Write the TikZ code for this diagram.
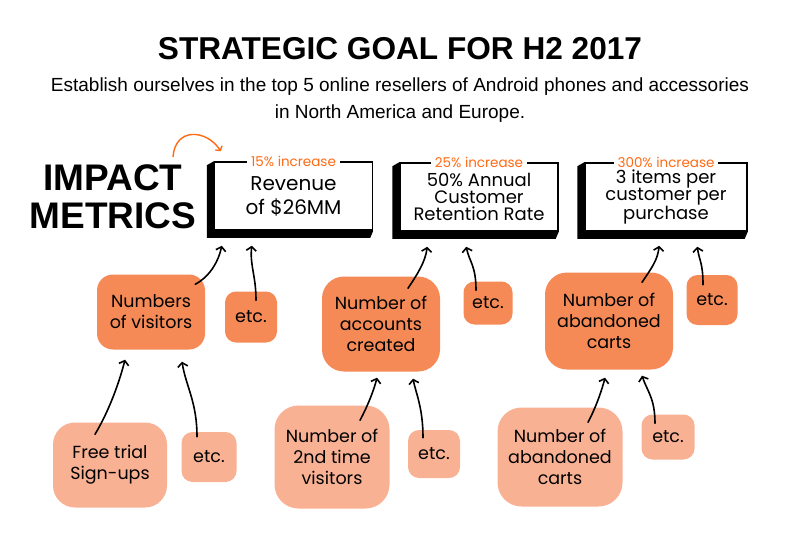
\documentclass[tikz,border=0pt]{standalone}
\usepackage{fontspec}
\setmainfont{Liberation Sans}
\newfontfamily\handfont{Poppins}
\usetikzlibrary{positioning,arrows.meta}
\definecolor{accent}{HTML}{FF6A13}
\definecolor{darkfill}{HTML}{F58A57}
\definecolor{lightfill}{HTML}{F9B194}

\tikzset{
  metric/.style={draw,line width=1.5pt,fill=white,minimum width=158pt,minimum height=68pt,inner sep=0pt,align=center},
  tag/.style={fill=white,text=accent,inner xsep=4pt,inner ysep=1pt,font=\handfont\fontsize{13.5}{14}\selectfont},
  blob/.style={rounded corners=16pt,inner sep=0pt,align=center,font=\handfont\fontsize{17.5}{21}\selectfont},
  upper/.style={blob,fill=darkfill},
  lower/.style={blob,fill=lightfill},
  etcbox/.style={rounded corners=11pt},
  arr/.style={-{Straight Barb[length=4pt,width=10pt]},line width=1.6pt,line cap=round}
}

\begin{document}
\begin{tikzpicture}[x=1pt,y=-1pt]
    \useasboundingbox (0,0) rectangle (800,556);
    % heading
    \node[anchor=base,font=\bfseries\fontsize{31.6}{34}\selectfont] (title) at (400,60) {STRATEGIC GOAL FOR H2 2017};
    \node[anchor=base,font=\fontsize{19}{20}\selectfont] (sub1) at (400,92) {Establish ourselves in the top 5 online resellers of Android phones and accessories};
    \node[anchor=base,font=\fontsize{19}{20}\selectfont] (sub2) at (400,119) {in North America and Europe.};
    \node[anchor=base,font=\bfseries\fontsize{37}{38}\selectfont] (impact) at (113,190) {IMPACT};
    \node[anchor=base,font=\bfseries\fontsize{37}{38}\selectfont] (metrics) at (113,228) {METRICS};

    % metric boxes
    \node[metric,font=\handfont\fontsize{20}{24}\selectfont] (box1) at (293.5,196) {Revenue\\of \$26MM};
    \node[metric,font=\handfont\fontsize{18}{17}\selectfont] (box2) at (479,197) {50\% Annual\\Customer\\Retention Rate};
    \node[metric,minimum width=162pt,font=\handfont\fontsize{18}{17.5}\selectfont] (box3) at (666,197) {3 items per\\customer per\\purchase};
    \foreach \b in {box1,box2,box3}
        \fill (\b.north west) -- ++(-7,4) -- ([shift={(-7,7)}]\b.south west) -- ([shift={(-3,7)}]\b.south east) -- (\b.south east) -- (\b.south west) -- cycle;
    \node[tag] at (box1.north) {15\% increase};
    \node[tag] at (box2.north) {25\% increase};
    \node[tag] at (box3.north) {300\% increase};
    \coordinate (curl) at (173,157);
    \draw[accent,line width=1.4pt,-{Straight Barb[length=3pt,width=8pt]}] (curl) .. controls +(2,-30) and +(-14,-22) .. ([shift={(7,-10)}]box1.north west);

    % drivers
    \node[upper,minimum width=108pt,minimum height=75pt] (visitors) at (151,312) {Numbers\\of visitors};
    \node[upper,etcbox,minimum width=52pt,minimum height=51pt] (etcA) at (251,317) {etc.};
    \node[upper,minimum width=118pt,minimum height=95pt,rounded corners=22pt] (accounts) at (381,324) {Number of\\accounts\\created};
    \node[upper,etcbox,minimum width=49pt,minimum height=43pt] (etcB) at (488,303) {etc.};
    \node[upper,minimum width=128pt,minimum height=97pt,rounded corners=22pt] (carts) at (609,321) {Number of\\abandoned\\carts};
    \node[upper,etcbox,minimum width=51pt,minimum height=50pt] (etcC) at (712,300) {etc.};

    % sub-drivers
    \node[lower,minimum width=114pt,minimum height=85pt,rounded corners=22pt] (signups) at (110,465) {Free trial\\Sign-ups};
    \node[lower,etcbox,minimum width=55pt,minimum height=50pt] (etcD) at (209,457) {etc.};
    \node[lower,minimum width=115pt,minimum height=103pt,rounded corners=24pt] (returning) at (332,457) {Number of\\2nd time\\visitors};
    \node[lower,etcbox,minimum width=52pt,minimum height=48pt] (etcE) at (434,454) {etc.};
    \node[lower,minimum width=125pt,minimum height=99pt,rounded corners=24pt] (abandoned) at (560,457) {Number of\\abandoned\\carts};
    \node[lower,etcbox,minimum width=53pt,minimum height=45pt] (etcF) at (668,437) {etc.};

    % arrows up to the metrics
    \draw[arr] ([shift={(-10,10)}]visitors.north east) .. controls +(15,-8) and +(-3,15) .. ([shift={(8,15)}]box1.south west);
    \draw[arr] ([shift={(5,9)}]etcA.north) .. controls +(0,-25) and +(-2,20) .. ([shift={(38,15)}]box1.south west);
    \draw[arr] ([shift={(27,12)}]accounts.north) .. controls +(10,-15) and +(-2,15) .. ([shift={(28,15)}]box2.south west);
    \draw[arr] ([shift={(-12,9)}]etcB.north) .. controls +(0,-25) and +(3,15) .. ([shift={(67,15)}]box2.south west);
    \draw[arr] ([shift={(33,10)}]carts.north) .. controls +(10,-15) and +(-2,15) .. ([shift={(75,14)}]box3.south west);
    \draw[arr] ([shift={(-9,10)}]etcC.north) .. controls +(0,-22) and +(2,14) .. ([shift={(113,15)}]box3.south west);

    % arrows up to the drivers
    \draw[arr] ([shift={(-15,12)}]signups.north) .. controls +(15,-25) and +(-5,20) .. ([shift={(-26,10)}]visitors.south);
    \draw[arr] ([shift={(-12,5)}]etcD.north) .. controls +(0,-35) and +(4,25) .. ([shift={(31,12)}]visitors.south);
    \draw[arr] ([shift={(28,15)}]returning.north) .. controls +(8,-15) and +(-3,12) .. ([shift={(-4,6)}]accounts.south);
    \draw[arr] ([shift={(-11,8)}]etcE.north) .. controls +(0,-30) and +(3,15) .. ([shift={(32,7)}]accounts.south);
    \draw[arr] ([shift={(28,15)}]abandoned.north) .. controls +(8,-15) and +(-3,12) .. ([shift={(-4,8)}]carts.south);
    \draw[arr] ([shift={(-13,9)}]etcF.north) .. controls +(0,-25) and +(5,15) .. ([shift={(33,6)}]carts.south);
\end{tikzpicture}
\end{document}
